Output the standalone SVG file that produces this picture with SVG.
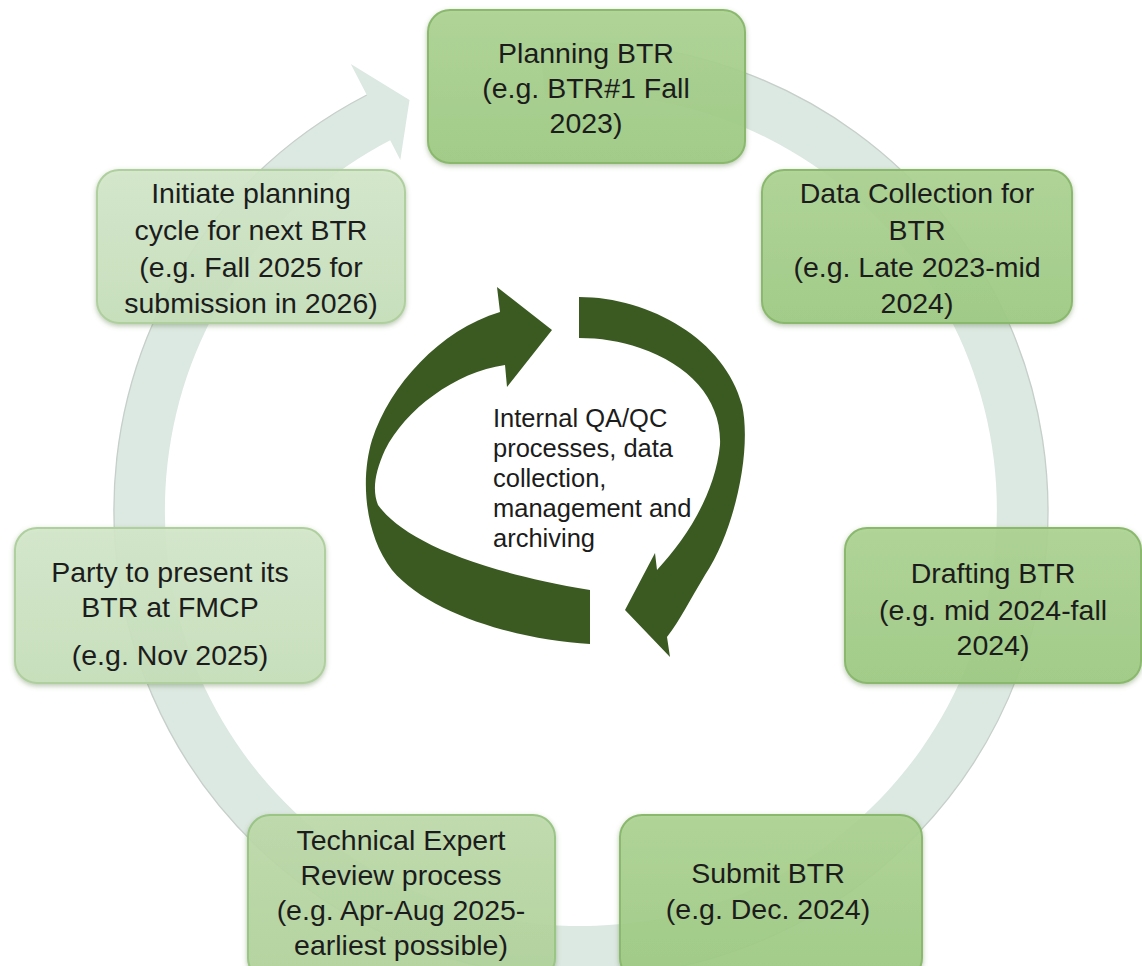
<svg xmlns="http://www.w3.org/2000/svg" width="1142" height="966" viewBox="0 0 1142 966">
  <defs>
    <linearGradient id="gMid" x1="0" y1="0" x2="0" y2="1">
      <stop offset="0" stop-color="#add393"/>
      <stop offset="1" stop-color="#9ecb83"/>
    </linearGradient>
    <linearGradient id="gSoft" x1="0" y1="0" x2="0" y2="1">
      <stop offset="0" stop-color="#bfdbac"/>
      <stop offset="1" stop-color="#b1d39b"/>
    </linearGradient>
    <linearGradient id="gLight" x1="0" y1="0" x2="0" y2="1">
      <stop offset="0" stop-color="#d4e8cb"/>
      <stop offset="1" stop-color="#c7e0bb"/>
    </linearGradient>
    <filter id="shadow" x="-10%" y="-10%" width="120%" height="125%">
      <feDropShadow dx="0" dy="2" stdDeviation="2.5" flood-color="#5d7f48" flood-opacity="0.45"/>
    </filter>
    <filter id="soft" x="-5%" y="-5%" width="110%" height="110%">
      <feGaussianBlur stdDeviation="0.6"/>
    </filter>
  </defs>
  <style>
    .box { stroke-width: 2; fill-opacity: 0.9; filter: url(#shadow); }
    .mid { fill: url(#gMid); stroke: #8ab96d; }
    .softbox { fill: url(#gSoft); stroke: #9ac585; }
    .light { fill: url(#gLight); stroke: #afd09e; }
    .lbl { font-family: "Liberation Sans", Arial, sans-serif; font-size: 28.5px; fill: #1c1c1c; text-anchor: middle; }
    .core { font-family: "Liberation Sans", Arial, sans-serif; font-size: 25.5px; fill: #1c1c1c; }
    .cycle { fill: #3a5a22; filter: url(#soft); }
  </style>

  <!-- large background cycle arrow -->
  <g id="outer-cycle">
    <path d="M 540.3 44.8 A 467 467 0 1 1 366.8 95 L 350.8 63.9 L 409.5 100 L 400.3 159.9 L 390.2 140.3 A 416 416 0 1 0 544.7 95.6 Z" fill="#dce8e2"/>
    <path d="M 540.3 44.8 A 467 467 0 1 1 366.8 95" fill="none" stroke="#c6cfca" stroke-width="1.3"/>
  </g>

  <!-- connectors: inner QA/QC cycle -->
  <g id="connectors">
    <path class="cycle" d="M 590 644 C 520 640 430 615 392 570 C 365 535 360 480 372 440 C 390 385 440 330 500 312 L 497 287 L 552 330 L 507 387 L 505 365 C 455 372 405 410 385 450 C 375 472 372 490 378 505 C 400 535 460 568 590 590 Z"/>
    <path class="cycle" d="M 579 297 C 650 297 725 340 742 405 C 752 450 735 530 705 575 C 690 600 680 620 667 637 L 670 657 L 625 610 L 655 553 L 657 570 C 685 540 715 495 720 445 C 722 400 690 365 640 348 C 620 341 600 338 579 338 Z"/>
  </g>

  <g id="core-text">
    <text class="core" x="493" y="427">Internal QA/QC</text>
    <text class="core" x="493" y="457">processes, data</text>
    <text class="core" x="493" y="487">collection,</text>
    <text class="core" x="493" y="517">management and</text>
    <text class="core" x="493" y="547">archiving</text>
  </g>

  <g id="planning">
    <rect class="box mid" x="428" y="10" width="317" height="153" rx="22"/>
    <text class="lbl" x="586" y="63">Planning BTR</text>
    <text class="lbl" x="586" y="98">(e.g. BTR#1 Fall</text>
    <text class="lbl" x="586" y="133">2023)</text>
  </g>

  <g id="data-collection">
    <rect class="box mid" x="762" y="170" width="310" height="153" rx="22"/>
    <text class="lbl" x="917" y="203">Data Collection for</text>
    <text class="lbl" x="917" y="240">BTR</text>
    <text class="lbl" x="917" y="277">(e.g. Late 2023-mid</text>
    <text class="lbl" x="917" y="313">2024)</text>
  </g>

  <g id="drafting">
    <rect class="box mid" x="845" y="528" width="296" height="155" rx="22"/>
    <text class="lbl" x="993" y="583">Drafting BTR</text>
    <text class="lbl" x="993" y="620">(e.g. mid 2024-fall</text>
    <text class="lbl" x="993" y="655">2024)</text>
  </g>

  <g id="submit">
    <rect class="box mid" x="620" y="815" width="302" height="165" rx="22"/>
    <text class="lbl" x="768" y="883">Submit BTR</text>
    <text class="lbl" x="768" y="919">(e.g. Dec. 2024)</text>
  </g>

  <g id="technical-review">
    <rect class="box softbox" x="248" y="815" width="307" height="165" rx="22"/>
    <text class="lbl" x="401" y="850">Technical Expert</text>
    <text class="lbl" x="401" y="885">Review process</text>
    <text class="lbl" x="401" y="920">(e.g. Apr-Aug 2025-</text>
    <text class="lbl" x="401" y="955">earliest possible)</text>
  </g>

  <g id="present">
    <rect class="box light" x="15" y="528" width="310" height="155" rx="22"/>
    <text class="lbl" x="170" y="582">Party to present its</text>
    <text class="lbl" x="170" y="617">BTR at FMCP</text>
    <text class="lbl" x="170" y="665">(e.g. Nov 2025)</text>
  </g>

  <g id="initiate">
    <rect class="box light" x="97" y="170" width="308" height="153" rx="22"/>
    <text class="lbl" x="251" y="203">Initiate planning</text>
    <text class="lbl" x="251" y="240">cycle for next BTR</text>
    <text class="lbl" x="251" y="277">(e.g. Fall 2025 for</text>
    <text class="lbl" x="251" y="313">submission in 2026)</text>
  </g>
</svg>
